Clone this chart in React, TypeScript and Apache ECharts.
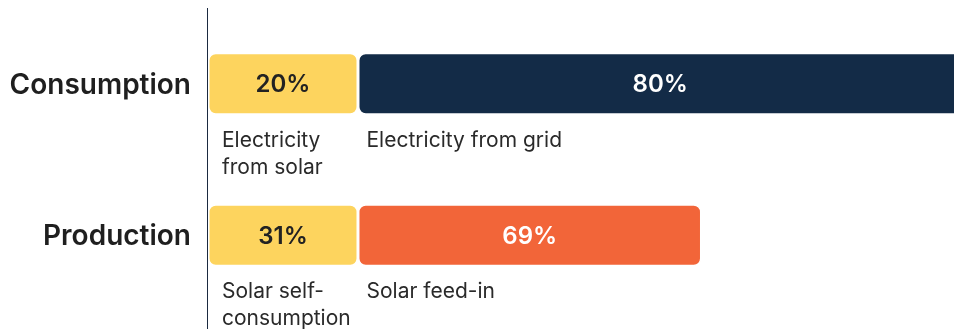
import React, { useEffect, useRef } from "react";
import * as echarts from "echarts";

const categories = ["Consumption", "Production"];
const solarValues = [20, 20];
const otherValues = [80.6, 45.8];
const solarPct = ["20%", "31%"];
const otherPct = ["80%", "69%"];
const solarDesc = ["Electricity\nfrom solar", "Solar self-\nconsumption"];
const otherDesc = ["Electricity from grid", "Solar feed-in"];
const otherColors = ["#132B47", "#F26539"];

const YELLOW = "#FDD45E";
const FONT = "Inter";

export default function App() {
  const ref = useRef<HTMLDivElement>(null);
  useEffect(() => {
    document.documentElement.style.overflow = "hidden";
    document.body.style.overflow = "hidden";
    if (!ref.current) return;
    const chart = echarts.init(ref.current, undefined, { renderer: "svg" });
    const barW = 62;
    const border = { borderColor: "#ffffff", borderWidth: 1.5, borderRadius: 7 };
    const descLabel = (texts: string[], dx: number) => ({
      show: true,
      position: [dx, 73] as [number, number],
      align: "left" as const,
      verticalAlign: "top" as const,
      formatter: (p: any) => texts[p.dataIndex],
      fontFamily: FONT,
      fontSize: 21,
      lineHeight: 27,
      color: "#2a2a2a",
    });
    chart.setOption({
      animation: false,
      grid: { left: 208, right: 0, top: 8, bottom: 18 },
      xAxis: { type: "value", min: 0, max: 99.47, show: false },
      yAxis: {
        type: "category",
        data: categories,
        inverse: true,
        axisLine: { show: false },
        axisTick: { show: false },
        axisLabel: {
          margin: 17,
          fontFamily: FONT,
          fontSize: 28,
          fontWeight: 600,
          color: "#1f1f1f",
        },
      },
      graphic: [
        {
          type: "line",
          shape: { x1: 207.5, y1: 8, x2: 207.5, y2: 329 },
          style: { stroke: "#1B2A40", lineWidth: 1 },
          silent: true,
        },
      ],
      series: [
        {
          type: "bar",
          stack: "a",
          barWidth: barW,
          barGap: "-100%",
          clip: false,
          data: solarValues,
          itemStyle: { color: YELLOW, ...border },
          label: {
            show: true,
            position: "inside",
            formatter: (p: any) => solarPct[p.dataIndex],
            fontFamily: FONT,
            fontSize: 24,
            fontWeight: 600,
            color: "#222222",
          },
        },
        {
          type: "bar",
          stack: "a",
          barWidth: barW,
          barGap: "-100%",
          clip: false,
          data: otherValues.map((v, i) => ({ value: v, itemStyle: { color: otherColors[i] } })),
          itemStyle: { ...border },
          label: {
            show: true,
            position: "inside",
            formatter: (p: any) => otherPct[p.dataIndex],
            fontFamily: FONT,
            fontSize: 24,
            fontWeight: 600,
            color: "#ffffff",
          },
        },
        {
          type: "bar",
          stack: "b",
          barWidth: barW,
          barGap: "-100%",
          clip: false,
          silent: true,
          data: solarValues,
          itemStyle: { color: "transparent", borderWidth: 0 },
          label: descLabel(solarDesc, 14),
        },
        {
          type: "bar",
          stack: "b",
          barWidth: barW,
          barGap: "-100%",
          clip: false,
          silent: true,
          data: otherValues,
          itemStyle: { color: "transparent", borderWidth: 0 },
          label: descLabel(otherDesc, 8.5),
        },
      ],
    });
    return () => chart.dispose();
  }, []);
  return (
    <div
      ref={ref}
      style={{ position: "fixed", left: 0, top: 0, width: 954, height: 329 }}
    />
  );
}
